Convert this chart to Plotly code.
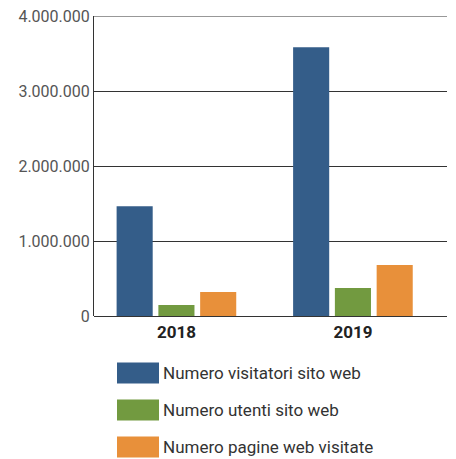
import plotly.graph_objects as go

years = ["2018", "2019"]
series_names = [
    "Numero visitatori sito web",
    "Numero utenti sito web",
    "Numero pagine web visitate",
]
visitatori = [1465000, 3585000]
utenti = [148000, 372000]
pagine = [320000, 680000]
colors = ["#345D89", "#729A40", "#E8903A"]
y_max = 4000000

FONT = "Roboto"
# the page body keeps an 8px margin, so the figure is drawn 8px smaller
OFF = 8
W, H = 456 - OFF, 459 - OFF
PL, PT, PW, PH = 94 - OFF, 16 - OFF, 353, 300

fig = go.Figure()
for name, values, color in zip(series_names, [visitatori, utenti, pagine], colors):
    fig.add_trace(go.Bar(
        x=years, y=values, name=name,
        marker=dict(color=color, line=dict(width=0)),
        showlegend=False,
    ))

# plotly drops the gridline sitting on the top edge, so draw that one by hand
fig.add_shape(
    type="line", xref="paper", yref="y", x0=0, x1=1, y0=y_max, y1=y_max,
    line=dict(color="#333333", width=1),
)

# legend drawn by hand: big swatches stacked under the plot
bottom = PT + PH
for i, (name, color) in enumerate(zip(series_names, colors)):
    yc = 373 + i * 37 - OFF
    fig.add_shape(
        type="rect", xref="paper", yref="paper",
        x0=(117 - OFF - PL) / PW, x1=(159 - OFF - PL) / PW,
        y0=(bottom - (yc + 10.5)) / PH, y1=(bottom - (yc - 10.5)) / PH,
        fillcolor=color, line=dict(width=0),
    )
    fig.add_annotation(
        xref="paper", yref="paper",
        x=(161 - OFF - PL) / PW, y=(bottom - yc) / PH,
        xanchor="left", yanchor="middle", showarrow=False,
        text=name, font=dict(family=FONT, size=17, color="#333333"),
    )

fig.update_layout(
    width=W, height=H,
    margin=dict(l=PL, r=W - PL - PW, t=PT, b=H - PT - PH),
    plot_bgcolor="white", paper_bgcolor="white",
    barmode="group", bargap=0.29, bargroupgap=0.136,
    separators=",.",
    font=dict(family=FONT, color="#444444"),
)
fig.update_xaxes(
    range=[-0.467, 1.533], automargin=False,
    showgrid=False, showline=False, ticks="", ticklabelstandoff=4,
    tickfont=dict(family=FONT, size=17, color="#222222", weight="bold"),
)
fig.update_yaxes(
    range=[0, y_max], dtick=1000000, tickformat=",d", automargin=False,
    showgrid=True, gridcolor="#333333", gridwidth=1,
    zeroline=True, zerolinecolor="#333333", zerolinewidth=1,
    showline=True, linecolor="#333333", linewidth=1,
    ticks="", ticklabeloverflow="allow",
    tickfont=dict(family=FONT, size=16, color="#555555"),
)
fig.write_html("out.html")
